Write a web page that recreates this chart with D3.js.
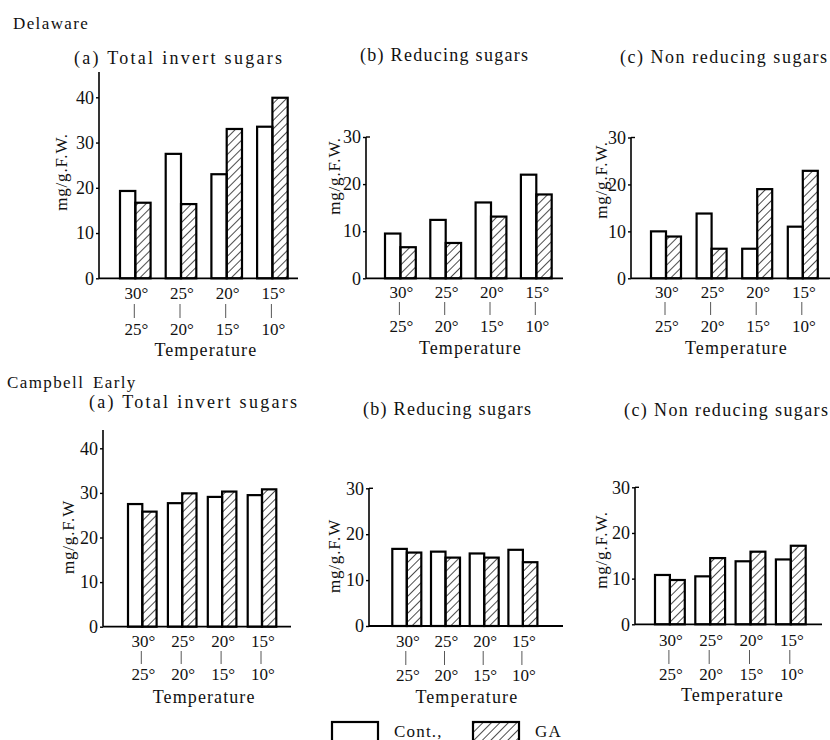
<!DOCTYPE html>
<html><head><meta charset="utf-8">
<script src="https://cdn.jsdelivr.net/npm/d3@7/dist/d3.min.js"></script>
<style>
html,body{margin:0;padding:0;background:#fff;}
svg text{font-family:"Liberation Serif","Times New Roman","DejaVu Serif",serif;fill:#111;}
</style></head><body>
<svg id="chart" width="830" height="740"></svg>
<script>
// ---- data ----
const tempFrom = ["30°", "25°", "20°", "15°"];
const tempTo   = ["25°", "20°", "15°", "10°"];
const seriesNames = ["Cont.,", "GA"];

const delawareTotalCont = [19.3, 27.5, 23.0, 33.5];
const delawareTotalGA   = [16.7, 16.4, 33.0, 39.9];
const delawareRedCont   = [9.5, 12.4, 16.1, 22.0];
const delawareRedGA     = [6.6, 7.5, 13.1, 17.8];
const delawareNonCont   = [10.0, 13.8, 6.3, 11.0];
const delawareNonGA     = [8.9, 6.3, 19.0, 22.9];

const campbellTotalCont = [27.5, 27.7, 29.1, 29.5];
const campbellTotalGA   = [25.8, 29.9, 30.3, 30.8];
const campbellRedCont   = [16.8, 16.2, 15.8, 16.6];
const campbellRedGA     = [16.0, 14.9, 14.9, 13.9];
const campbellNonCont   = [10.8, 10.5, 13.8, 14.2];
const campbellNonGA     = [9.7, 14.5, 15.9, 17.2];

const ticks40 = [0, 10, 20, 30, 40];
const ticks30 = [0, 10, 20, 30];

const panelTitles = ["(a)  Total invert sugars", "(b)  Reducing sugars", "(c)  Non reducing sugars"];
const varieties = ["Delaware", "Campbell Early"];

// ---- layout (positions only) ----
const panels = [
  {title:panelTitles[0], cont:delawareTotalCont, ga:delawareTotalGA, ticks:ticks40, ylab:"mg/g.F.W.",
   ax:99, base:278.3, topTickY:97.3, axTop:72, xEnd:298, g0:120, gStep:45.7, bw:15.3,
   tx:74, ty:64, tw:208, labX:67, labY:172, r1:299, sep:[304,318], r2:335, tempY:356},
  {title:panelTitles[1], cont:delawareRedCont, ga:delawareRedGA, ticks:ticks30, ylab:"mg/g.F.W.",
   ax:366, base:278.3, topTickY:137, axTop:137, xEnd:563, g0:385, gStep:45.3, bw:15.4,
   tx:360, ty:61, tw:168, labX:340, labY:176, r1:298, sep:[302,315], r2:332, tempY:354},
  {title:panelTitles[2], cont:delawareNonCont, ga:delawareNonGA, ticks:ticks30, ylab:"mg/g.F.W.",
   ax:631, base:278.3, topTickY:137.5, axTop:137.5, xEnd:830, g0:651, gStep:45.6, bw:15,
   tx:620, ty:63, tw:207, labX:607, labY:180, r1:298, sep:[302,315], r2:332, tempY:354},
  {title:panelTitles[0], cont:campbellTotalCont, ga:campbellTotalGA, ticks:ticks40, ylab:"mg/g.F.W",
   ax:103, base:626.7, topTickY:448.3, axTop:430, xEnd:291, g0:128, gStep:39.9, bw:14.3,
   tx:89, ty:408, tw:208, labX:74, labY:537, r1:647, sep:[651,664], r2:680, tempY:703},
  {title:panelTitles[1], cont:campbellRedCont, ga:campbellRedGA, ticks:ticks30, ylab:"mg/g.F.W",
   ax:369, base:626, topTickY:488.3, axTop:488.3, xEnd:563, g0:392.3, gStep:38.7, bw:14.5,
   tx:363, ty:415, tw:168, labX:340, labY:556, r1:647, sep:[651,665], r2:681, tempY:703},
  {title:panelTitles[2], cont:campbellNonCont, ga:campbellNonGA, ticks:ticks30, ylab:"mg/g.F.W.",
   ax:635, base:624.3, topTickY:487.3, axTop:487.3, xEnd:822, g0:655, gStep:40.3, bw:14.9,
   tx:624, ty:416, tw:204, labX:607, labY:550, r1:646, sep:[650,664], r2:680, tempY:701}
];

const svg = d3.select("#chart");
const defs = svg.append("defs");
defs.append("pattern")
  .attr("id","hatch").attr("patternUnits","userSpaceOnUse")
  .attr("width",6).attr("height",6)
  .attr("patternTransform","rotate(45)")
  .append("line").attr("x1",0).attr("y1",0).attr("x2",0).attr("y2",6)
  .attr("stroke","#111").attr("stroke-width",1.5);

// variety labels
svg.append("text").attr("x",13).attr("y",29).attr("font-size",17).attr("letter-spacing",1.4).text(varieties[0]);
svg.append("text").attr("x",7).attr("y",388).attr("font-size",17).attr("letter-spacing",1.4).attr("word-spacing",3).text(varieties[1]);

panels.forEach(p => {
  const g = svg.append("g");
  const topVal = p.ticks[p.ticks.length-1];
  const y = d3.scaleLinear().domain([0, topVal]).range([p.base, p.topTickY]);
  const n = tempFrom.length;
  const x = d3.scaleBand().domain(tempFrom)
    .range([p.g0, p.g0 + (n-1)*p.gStep + 2*p.bw])
    .paddingInner(1 - 2*p.bw/p.gStep).paddingOuter(0);
  const xs = d3.scaleBand().domain(seriesNames).range([0, x.bandwidth()]);

  // title
  g.append("text").attr("x",p.tx).attr("y",p.ty).attr("font-size",18)
    .attr("textLength",p.tw).attr("lengthAdjust","spacing").text(p.title);

  // bars
  const rows = tempFrom.map((t,i)=>({t, vals:[p.cont[i], p.ga[i]]}));
  const grp = g.selectAll(".grp").data(rows).join("g")
    .attr("transform", d=>`translate(${x(d.t)},0)`);
  grp.selectAll("rect").data(d=>d.vals.map((v,j)=>({v, s:seriesNames[j]}))).join("rect")
    .attr("x", d=>xs(d.s)).attr("width", xs.bandwidth())
    .attr("y", d=>y(d.v)).attr("height", d=>p.base - y(d.v))
    .attr("fill", d=> d.s==="GA" ? "url(#hatch)" : "#fff")
    .attr("stroke","#000").attr("stroke-width",2.2);

  // axes lines
  g.append("line").attr("x1",p.ax).attr("x2",p.xEnd).attr("y1",p.base).attr("y2",p.base)
    .attr("stroke","#000").attr("stroke-width",1.8);
  g.append("line").attr("x1",p.ax).attr("x2",p.ax).attr("y1",p.base).attr("y2",p.axTop)
    .attr("stroke","#000").attr("stroke-width",1.6);

  const yAxis = g.append("g").attr("transform",`translate(${p.ax},0)`)
    .call(d3.axisLeft(y).tickValues(p.ticks).tickSize(3).tickPadding(2).tickFormat(d3.format("d")));
  yAxis.attr("font-family",null).attr("font-size",null);
  yAxis.select(".domain").remove();
  yAxis.selectAll(".tick line").attr("stroke","#000").attr("stroke-width",1.4);
  yAxis.selectAll(".tick text").attr("font-size",18).attr("fill","#111");
  if (topVal === 30) {
    g.append("line").attr("x1",p.ax).attr("x2",p.ax+4).attr("y1",y(30)).attr("y2",y(30))
      .attr("stroke","#000").attr("stroke-width",1.4);
  }

  // y label
  g.append("text").attr("transform",`translate(${p.labX},${p.labY}) rotate(-90)`)
    .attr("text-anchor","middle").attr("font-size",17).attr("letter-spacing",0.8).text(p.ylab);

  // x tick labels
  tempFrom.forEach((t,i)=>{
    const cx = x(t) + x.bandwidth()/2;
    g.append("text").attr("x",cx+1).attr("y",p.r1).attr("text-anchor","middle").attr("font-size",17).text(t);
    g.append("line").attr("x1",cx-1).attr("x2",cx-1).attr("y1",p.sep[0]).attr("y2",p.sep[1])
      .attr("stroke","#444").attr("stroke-width",0.9);
    g.append("text").attr("x",cx+1).attr("y",p.r2).attr("text-anchor","middle").attr("font-size",17).text(tempTo[i]);
  });
  const mid = (x(tempFrom[0]) + x(tempFrom[n-1]) + x.bandwidth())/2;
  g.append("text").attr("x",mid+2).attr("y",p.tempY).attr("text-anchor","middle")
    .attr("font-size",18).attr("letter-spacing",1.1).text("Temperature");
});

// legend
const legend = svg.append("g");
const legendItems = [
  {name:seriesNames[0], fill:"#fff", bx:332, tx:394},
  {name:seriesNames[1], fill:"url(#hatch)", bx:473, tx:535}
];
legendItems.forEach(d=>{
  legend.append("rect").attr("x",d.bx).attr("y",722).attr("width",46).attr("height",30)
    .attr("fill",d.fill).attr("stroke","#000").attr("stroke-width",2.2);
  legend.append("text").attr("x",d.tx).attr("y",737).attr("font-size",17).attr("letter-spacing",1.2).text(d.name);
});
</script>
</body></html>
